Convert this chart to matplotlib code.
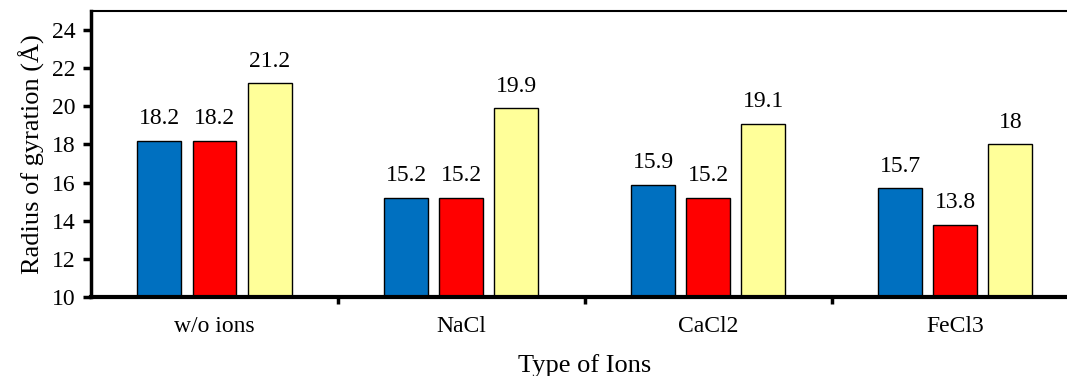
import matplotlib
matplotlib.use('Agg')
import matplotlib.pyplot as plt
import numpy as np

plt.rcParams['font.family'] = ['Liberation Serif', 'DejaVu Serif']

ions = ['w/o ions', 'NaCl', 'CaCl2', 'FeCl3']
blue_vals = [18.2, 15.2, 15.9, 15.7]
red_vals = [18.2, 15.2, 15.2, 13.8]
yellow_vals = [21.2, 19.9, 19.1, 18]
yticks = [10, 12, 14, 16, 18, 20, 22, 24]

fig = plt.figure(figsize=(10.67, 3.76), dpi=100)
ax = fig.add_axes([0.0853, 0.210, 1.011 - 0.0853, 0.9707 - 0.210])

x = np.arange(len(ions))
w = 0.178
off = 0.223
series = [(blue_vals, '#0070C0', -off), (red_vals, '#FF0000', 0), (yellow_vals, '#FFFF99', off)]
for vals, col, dx in series:
    ax.bar(x + dx, vals, width=w, bottom=0, color=col, edgecolor='black', linewidth=1.0, zorder=2)
    for xi, v in zip(x + dx, vals):
        ax.text(xi, v + 0.6, f'{v:g}', ha='center', va='bottom', fontsize=17)

ax.set_ylim(10, 25)
ax.set_xlim(-0.5, 3.5)
ax.set_yticks(yticks)
ax.set_xticks(x)
ax.set_xticklabels(ions)
ax.set_xticks([0.5, 1.5, 2.5], minor=True)
ax.tick_params(axis='y', which='major', direction='out', length=6, width=2.5, labelsize=17, pad=5)
ax.tick_params(axis='x', which='major', length=0, labelsize=17, pad=14)
ax.tick_params(axis='x', which='minor', direction='out', length=5, width=2.5)

ax.spines['left'].set_linewidth(2.5)
ax.spines['bottom'].set_linewidth(3)
ax.spines['top'].set_linewidth(1.5)
ax.spines['right'].set_visible(False)

ax.set_ylabel('Radius of gyration (Å)', fontsize=19, labelpad=5)
ax.set_xlabel('Type of Ions', fontsize=19, labelpad=12)

plt.savefig('out.png', dpi=100)
